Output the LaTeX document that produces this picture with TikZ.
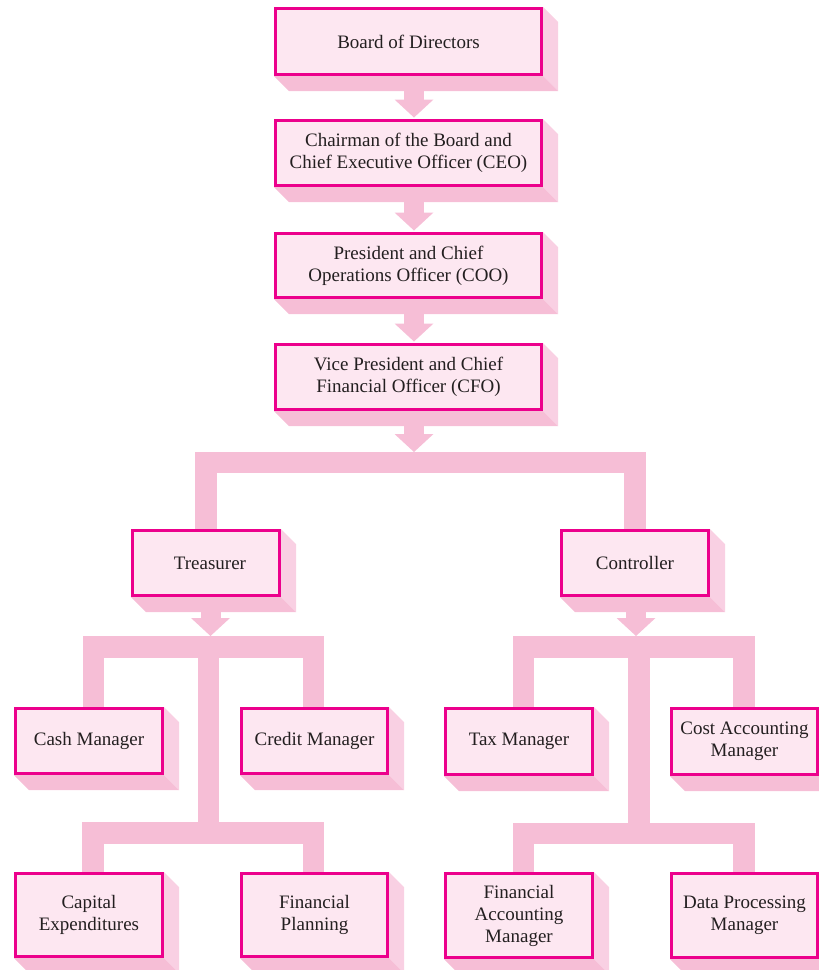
\documentclass[tikz,border=0pt]{standalone}
\usepackage{fontspec}
\setmainfont{Liberation Serif}
\usetikzlibrary{calc,backgrounds}
\definecolor{bordc}{HTML}{EC008C}
\definecolor{fillc}{HTML}{FDE7F1}
\definecolor{barc}{HTML}{F6BED6}
\definecolor{sidec}{HTML}{F9D0E3}
\definecolor{txtc}{HTML}{231F20}
\tikzset{
  orgbox/.style={draw=bordc, fill=fillc, line width=2.6pt, align=center, text=txtc,
    font=\fontsize{19}{22}\selectfont, inner sep=0pt},
  bar/.style={draw=barc, line width=21.5pt, line cap=butt, line join=miter},
  barfill/.style={fill=barc},
  sideface/.style={fill=sidec},
  botface/.style={fill=barc},
}
% name, x, y, outer width, outer height, text
\newcommand\obox[6]{%
  \node[orgbox, minimum width=#4pt-2.6pt, minimum height=#5pt-2.6pt] (#1) at (#2,#3) {#6};
  \fill[sideface] (#1.north east) -- ++(15,15) -- ($(#1.south east)+(15,15)$) -- (#1.south east) -- cycle;
  \fill[botface] (#1.south west) -- ++(15,15) -- ($(#1.south east)+(15,15)$) -- (#1.south east) -- cycle;
}
% from node, tip coordinate name
\newcommand\conarrow[2]{%
  \fill[barfill] ($(#2 |- #1.south)+(-10,0)$) rectangle ($(#2)+(10,-17)$);
  \fill[barfill] ($(#2)+(-19.5,-18)$) -- ($(#2)+(19.5,-18)$) -- (#2) -- cycle;
}
\begin{document}
\begin{tikzpicture}[x=1pt,y=-1pt]
\useasboundingbox (0,0) rectangle (819,970);
\clip (0,0) rectangle (819,970);

\obox{board}{408.5}{41.5}{269}{69}{Board of Directors}
\obox{ceo}{408.5}{153}{269}{68}{Chairman of the Board and\\Chief Executive Officer (CEO)}
\obox{coo}{408.5}{265.5}{269}{67}{President and Chief\\Operations Officer (COO)}
\obox{cfo}{408.5}{377}{269}{68}{Vice President and Chief\\Financial Officer (CFO)}

\obox{treas}{206}{563}{150}{68}{\hspace*{8pt}Treasurer}
\obox{ctrl}{635}{563}{150}{68}{Controller}

\obox{cash}{89}{741}{150}{68}{Cash Manager}
\obox{credit}{314.5}{741}{149}{68}{Credit Manager}
\obox{tax}{519}{741.5}{150}{69}{Tax Manager}
\obox{cost}{744.5}{741.5}{149}{69}{Cost Accounting\\Manager}

\obox{capex}{89}{915}{150}{86}{Capital\\Expenditures}
\obox{finplan}{314.5}{915}{149}{86}{Financial\\Planning}
\obox{finacc}{519}{915.5}{150}{87}{Financial\\Accounting\\Manager}
\obox{dataproc}{744.5}{915.5}{149}{87}{Data Processing\\Manager}

\coordinate (jtop) at (414,462.5);
\coordinate (tj) at (208.5,647);
\coordinate (tj2) at (208.5,833);
\coordinate (cj) at (639,647);
\coordinate (cj2) at (639,833.5);
\coordinate (t1) at ($(ceo.north)+(5.5,-1.5)$);
\coordinate (t2) at ($(coo.north)+(5.5,-1.5)$);
\coordinate (t3) at ($(cfo.north)+(5.5,-1.5)$);
\coordinate (t4) at ($(jtop)+(0,-10.5)$);
\coordinate (t5) at ($(tj)+(2,-11)$);
\coordinate (t6) at ($(cj)+(-3,-11)$);

\begin{scope}[on background layer]
  \conarrow{board}{t1}
  \conarrow{ceo}{t2}
  \conarrow{coo}{t3}
  \conarrow{cfo}{t4}
  \conarrow{treas}{t5}
  \conarrow{ctrl}{t6}
  \draw[bar] (treas.north) |- (jtop) -| (ctrl.north);
  \draw[bar] ($(cash.north)+(4.5,0)$) |- (tj) -| ($(credit.north)+(-1,0)$);
  \draw[bar] (tj) -- (tj2);
  \draw[bar] ($(capex.north)+(4,0)$) |- (tj2) -| ($(finplan.north)+(-1,0)$);
  \draw[bar] ($(tax.north)+(4.5,0)$) |- (cj) -| ($(cost.north)+(-0.5,0)$);
  \draw[bar] (cj) -- (cj2);
  \draw[bar] ($(finacc.north)+(4.5,0)$) |- (cj2) -| ($(dataproc.north)+(-0.5,0)$);
\end{scope}
\end{tikzpicture}
\end{document}
